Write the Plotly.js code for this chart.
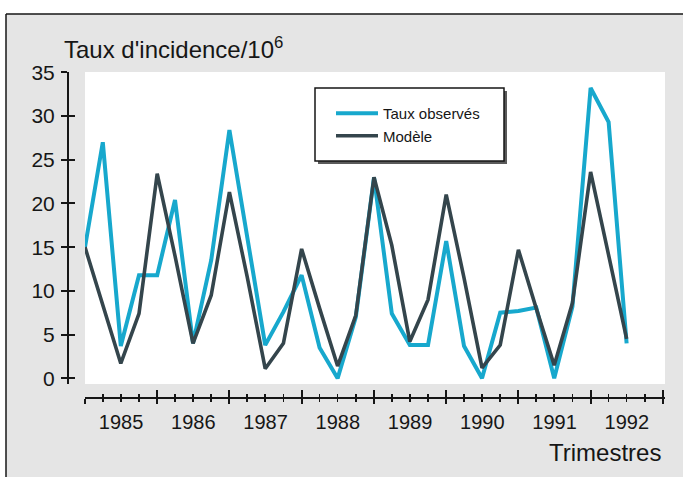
<!DOCTYPE html>
<html>
<head>
<meta charset="utf-8">
<script src="https://cdn.plot.ly/plotly-3.0.1.min.js"></script>
<style>html,body{margin:0;padding:0;background:#fff;}#chart{width:683px;height:477px;}</style>
</head>
<body>
<div id="chart"></div>
<script>
// One point per quarter (trimestre), 1985 T1 ... 1992 T3
const quarters = ['1985-01-01','1985-04-01','1985-07-01','1985-10-01',
                  '1986-01-01','1986-04-01','1986-07-01','1986-10-01',
                  '1987-01-01','1987-04-01','1987-07-01','1987-10-01',
                  '1988-01-01','1988-04-01','1988-07-01','1988-10-01',
                  '1989-01-01','1989-04-01','1989-07-01','1989-10-01',
                  '1990-01-01','1990-04-01','1990-07-01','1990-10-01',
                  '1991-01-01','1991-04-01','1991-07-01','1991-10-01',
                  '1992-01-01','1992-04-01','1992-07-01'];
const tauxObserves = [15, 27, 3.7, 11.8, 11.8, 20.4, 4.0, 13.5, 28.4, 16.5, 3.8, 7.6, 11.8, 3.5, 0, 7.0, 23, 7.4, 3.8, 3.8, 15.7, 3.7, 0, 7.5, 7.7, 8.1, 0, 8.2, 33.2, 29.3, 4.0];
const modele = [15, 8.3, 1.7, 7.4, 23.4, 14, 4.0, 9.5, 21.3, 11.6, 1.1, 4.0, 14.8, 8.0, 1.4, 7.2, 23, 15.2, 4.2, 9.0, 21.0, 11.5, 1.2, 3.8, 14.7, 8.0, 1.5, 8.6, 23.6, 14.1, 4.5];
const yTicks = [0, 5, 10, 15, 20, 25, 30, 35];

const W = 683, H = 477;
const L = 68, R = 18, T = 72, B = 79;
const PW = W - L - R, PH = H - T - B;
const px = v => (v - L) / PW;
const py = v => (H - B - v) / PH;

const FONT = 'Liberation Sans, Arial, Helvetica, sans-serif';
const INK = '#161616';
const xDomain = [px(85), 1];
const yDomain = [py(384), 1];
const xRange = ['1985-01-01', '1993-01-11'];
const yRange = [-0.65, 35.03];

const traces = [
  {x: quarters, y: tauxObserves, name: 'Taux observés', type: 'scatter', mode: 'lines',
   line: {color: '#17a8cd', width: 4}, legendgroup: 'a', xaxis: 'x', yaxis: 'y'},
  {x: quarters, y: modele, name: 'Modèle', type: 'scatter', mode: 'lines',
   line: {color: '#34454c', width: 3.6}, legendgroup: 'b', xaxis: 'x2', yaxis: 'y2'}
];

const baseX = {type: 'date', domain: xDomain, range: xRange, anchor: 'free', position: 0,
               zeroline: false, showgrid: false, fixedrange: true,
               tick0: '1985-01-01', dtick: 'M12',
               showline: true, linecolor: INK, linewidth: 2};
const baseY = {domain: yDomain, range: yRange, anchor: 'free', position: 0, zeroline: false, showgrid: false, fixedrange: true,
               tickmode: 'array', tickvals: yTicks,
               showline: true, linecolor: INK, linewidth: 2};

const layout = {
  width: W, height: H,
  margin: {l: L, r: R, t: T, b: B, pad: 0},
  paper_bgcolor: '#e5e5e5',
  plot_bgcolor: '#ffffff',
  font: {family: FONT, color: INK, size: 20},
  showlegend: true,
  legend: {x: px(331), y: py(97), xanchor: 'left', yanchor: 'top', bgcolor: 'rgba(0,0,0,0)', borderwidth: 0,
           font: {family: FONT, size: 15, color: INK}, itemwidth: 42, tracegroupgap: 8, traceorder: 'normal'},
  xaxis: Object.assign({}, baseX, {
    ticklabelmode: 'period', tickformat: '%Y',
    tickfont: {family: FONT, size: 20, color: INK}, ticklabelstandoff: 1,
    ticks: 'outside', ticklen: 5, tickwidth: 2, tickcolor: INK,
    minor: {dtick: 'M3', ticks: 'outside', ticklen: 3, tickwidth: 1.5, tickcolor: INK}
  }),
  xaxis2: Object.assign({}, baseX, {
    overlaying: 'x', showticklabels: false,
    ticks: 'inside', ticklen: 7, tickwidth: 2, tickcolor: INK,
    minor: {dtick: 'M3', ticks: 'inside', ticklen: 3, tickwidth: 1.5, tickcolor: INK}
  }),
  yaxis: Object.assign({}, baseY, {
    ticktext: yTicks.map(String),
    ticks: 'outside', ticklen: 6, tickwidth: 2, tickcolor: INK,
    tickfont: {family: FONT, size: 21, color: INK}, ticklabelstandoff: 2
  }),
  yaxis2: Object.assign({}, baseY, {
    overlaying: 'y', showticklabels: false,
    ticks: 'inside', ticklen: 6, tickwidth: 2, tickcolor: INK
  }),
  shapes: [
    {type: 'rect', xref: 'paper', yref: 'paper', x0: px(-5), x1: px(690), y0: py(14), y1: py(-5), fillcolor: '#ffffff', line: {width: 0}, layer: 'below'},
    {type: 'rect', xref: 'paper', yref: 'paper', x0: px(-5), x1: px(6), y0: py(490), y1: py(14), fillcolor: '#ffffff', line: {width: 0}, layer: 'below'},
    {type: 'line', xref: 'paper', yref: 'paper', x0: px(6), x1: px(690), y0: py(14), y1: py(14), line: {color: INK, width: 1.5}, layer: 'below'},
    {type: 'line', xref: 'paper', yref: 'paper', x0: px(6), x1: px(6), y0: py(14), y1: py(490), line: {color: INK, width: 1.5}, layer: 'below'},
    {type: 'rect', xref: 'paper', yref: 'paper', x0: px(318), x1: px(507), y0: py(164), y1: py(91), fillcolor: '#5a5a5a', line: {width: 0}, layer: 'above'},
    {type: 'rect', xref: 'paper', yref: 'paper', x0: px(315), x1: px(504), y0: py(161), y1: py(88), fillcolor: '#ffffff', line: {color: INK, width: 1.5}, layer: 'above'}
  ],
  annotations: [
    {xref: 'paper', yref: 'paper', x: px(62), y: py(48), xanchor: 'left', yanchor: 'middle', showarrow: false,
     text: "Taux d'incidence/10<sup>6</sup>", font: {family: FONT, size: 24, color: INK}},
    {xref: 'paper', yref: 'paper', x: px(663), y: py(452), xanchor: 'right', yanchor: 'middle', showarrow: false,
     text: 'Trimestres', font: {family: FONT, size: 24, color: INK}}
  ]
};

Plotly.newPlot('chart', traces, layout, {displayModeBar: false, staticPlot: true});
</script>
</body>
</html>
